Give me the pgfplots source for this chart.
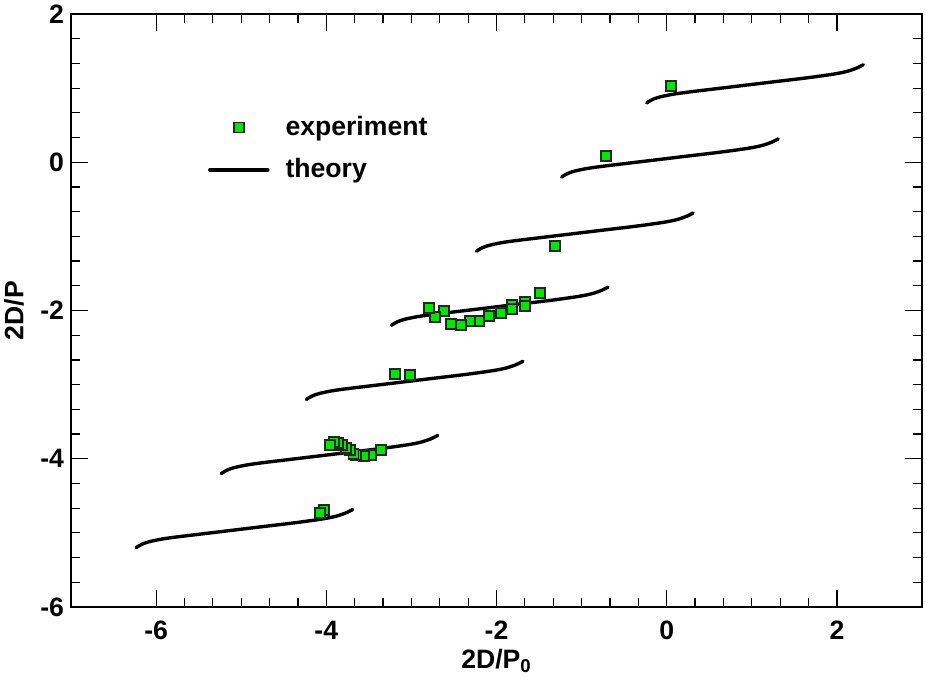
\documentclass[border=0pt]{standalone}
\usepackage{pgfplots}
\pgfplotsset{compat=1.18}
\usepackage{fontspec}
\setmainfont{Liberation Sans}
\definecolor{expgreen}{RGB}{0,230,0}
\begin{document}
\begin{tikzpicture}
\path[use as bounding box] (-35.5pt,-42pt) rectangle (427pt,303.5pt);
\begin{axis}[
  at={(0,0)}, anchor=south west,
  scale only axis, width=425.5pt, height=296.5pt,
  xmin=-7, xmax=3, ymin=-6, ymax=2,
  xtick={-6,-4,-2,0,2}, ytick={-6,-4,-2,0,2},
  minor tick num=5,
  tick align=inside,
  major tick length=8.5pt, minor tick length=4.5pt,
  every tick/.style={black, line width=0.6pt},
  axis line style={line width=1.1pt},
  font=\fontsize{13.3}{16}\selectfont\bfseries,
  /pgf/number format/assume math mode=true,
  xticklabel style={yshift=-3.5pt},
  xlabel={2D/P\textsubscript{0}},
  ylabel={2D/P},
  xlabel style={at={(axis description cs:0.5,-0.059)}, anchor=north},
  ylabel style={at={(axis description cs:-0.067,0.5)}, anchor=center},
  legend style={draw=none, fill=none, at={(0.1536,0.8415)}, anchor=north west,
    font=\fontsize{13.3}{16}\selectfont\bfseries, row sep=6pt, column sep=6pt,
    nodes={inner sep=2pt}},
  legend cell align=left,
  legend image code/.code={\draw[mark repeat=2,mark phase=2] plot coordinates {(0pt,0pt)(14.5pt,0pt)(29pt,0pt)};},
  theo/.style={black, line width=1.7pt, line cap=round, smooth, tension=0.5},
]
\addlegendimage{only marks, mark=square*, mark size=2.5pt, mark options={fill=expgreen, draw=black!85, line width=0.95pt}}
\addlegendentry{experiment}

\addplot[theo] coordinates {(-0.235,0.800) (-0.200,0.826) (-0.160,0.850) (-0.080,0.881) (0.075,0.918) (0.270,0.949) (0.466,0.976) (0.858,1.030) (1.249,1.084) (1.642,1.138) (1.954,1.188) (2.112,1.224) (2.229,1.269) (2.310,1.315)};
\addlegendentry{theory}
\addplot[theo, forget plot] coordinates {(-1.235,-0.200) (-1.200,-0.174) (-1.160,-0.150) (-1.080,-0.119) (-0.925,-0.082) (-0.730,-0.051) (-0.534,-0.024) (-0.142,0.030) (0.249,0.084) (0.642,0.138) (0.954,0.188) (1.112,0.224) (1.229,0.269) (1.310,0.315)};
\addplot[theo, forget plot] coordinates {(-2.235,-1.200) (-2.200,-1.174) (-2.160,-1.150) (-2.080,-1.119) (-1.925,-1.082) (-1.730,-1.051) (-1.534,-1.024) (-1.142,-0.970) (-0.751,-0.916) (-0.358,-0.862) (-0.046,-0.812) (0.112,-0.776) (0.229,-0.731) (0.310,-0.685)};
\addplot[theo, forget plot] coordinates {(-3.235,-2.200) (-3.200,-2.174) (-3.160,-2.150) (-3.080,-2.119) (-2.925,-2.082) (-2.730,-2.051) (-2.534,-2.024) (-2.142,-1.970) (-1.751,-1.916) (-1.358,-1.862) (-1.046,-1.812) (-0.888,-1.776) (-0.771,-1.731) (-0.690,-1.685)};
\addplot[theo, forget plot] coordinates {(-4.235,-3.200) (-4.200,-3.174) (-4.160,-3.150) (-4.080,-3.119) (-3.925,-3.082) (-3.730,-3.051) (-3.534,-3.024) (-3.142,-2.970) (-2.751,-2.916) (-2.358,-2.862) (-2.046,-2.812) (-1.888,-2.776) (-1.771,-2.731) (-1.690,-2.685)};
\addplot[theo, forget plot] coordinates {(-5.235,-4.200) (-5.200,-4.174) (-5.160,-4.150) (-5.080,-4.119) (-4.925,-4.082) (-4.730,-4.051) (-4.534,-4.024) (-4.142,-3.970) (-3.751,-3.916) (-3.358,-3.862) (-3.046,-3.812) (-2.888,-3.776) (-2.771,-3.731) (-2.690,-3.685)};
\addplot[theo, forget plot] coordinates {(-6.235,-5.200) (-6.200,-5.174) (-6.160,-5.150) (-6.080,-5.119) (-5.925,-5.082) (-5.730,-5.051) (-5.534,-5.024) (-5.142,-4.970) (-4.751,-4.916) (-4.358,-4.862) (-4.046,-4.812) (-3.888,-4.776) (-3.771,-4.731) (-3.690,-4.685)};

\addplot[only marks, mark=square*, mark size=2.5pt, mark options={fill=expgreen, draw=black!85, line width=0.95pt}, forget plot] coordinates {
(0.055,1.026) (-0.717,0.081) (-1.316,-1.134) (-1.49,-1.76)
(-1.669,-1.885) (-1.669,-1.943) (-1.818,-1.92) (-1.813,-1.984)
(-1.951,-2.029) (-2.092,-2.074) (-2.209,-2.146) (-2.315,-2.146)
(-2.421,-2.200) (-2.530,-2.177) (-2.617,-2.007) (-2.718,-2.088) (-2.797,-1.966)
(-3.020,-2.865) (-3.196,-2.852)
(-3.353,-3.887) (-3.470,-3.945) (-3.557,-3.964) (-3.646,-3.954) (-3.680,-3.930)
(-3.719,-3.887) (-3.764,-3.850) (-3.815,-3.819) (-3.860,-3.788) (-3.909,-3.775) (-3.960,-3.819)
(-4.030,-4.690) (-4.070,-4.730)
};
\end{axis}
\end{tikzpicture}
\end{document}
